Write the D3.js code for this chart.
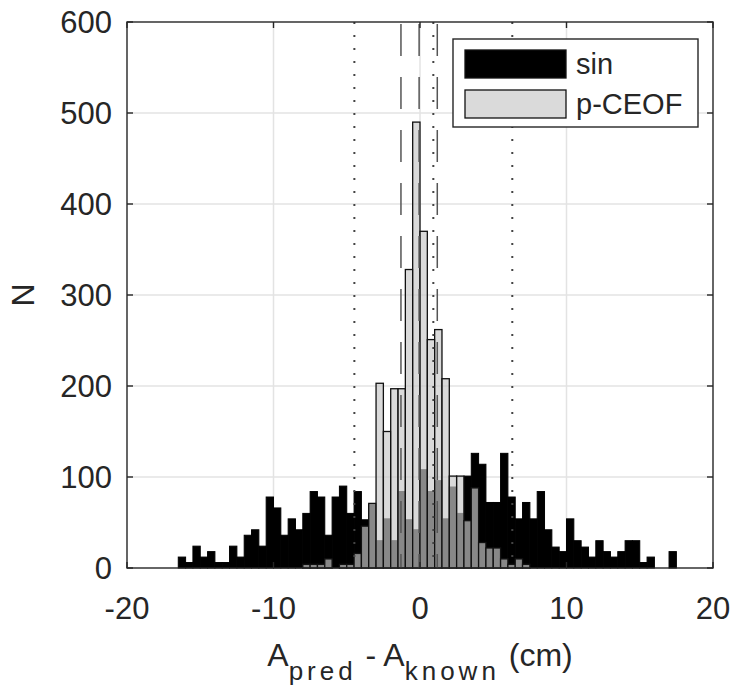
<!DOCTYPE html>
<html>
<head>
<meta charset="utf-8">
<script src="https://cdn.jsdelivr.net/npm/d3@7"></script>
<style>
  body { margin: 0; background: #fff; }
  text { font-family: "Liberation Sans", Arial, Helvetica, sans-serif; fill: #262626; }
</style>
</head>
<body>
<svg id="chart"></svg>
<script>
// bin width 0.5 cm, each array starts at its own first bin edge
const binWidth = 0.5;
const sinStart = -16.5;
const sinCounts = [12, 6, 24, 12, 18, 6, 6, 24, 12, 36, 42, 24, 78, 66, 36, 54, 42, 60, 84, 78,
  36, 78, 90, 60, 84, 53, 70, 30, 54, 30, 84, 53, 42, 108, 84, 96, 54, 89, 60, 101,
  126, 114, 72, 72, 126, 78, 54, 72, 54, 84, 42, 23, 18, 54, 30, 23, 12, 30, 18, 12,
  18, 30, 30, 6, 12, 0, 0, 18];
const ceofStart = -8;
const ceofCounts = [4, 4, 4, 10, 0, 4, 4, 16, 46, 71, 203, 150, 197, 197, 328, 490, 370, 251, 262, 208,
  101, 101, 52, 88, 28, 22, 22, 10, 4, 10, 4];

// mean and mean +/- std markers
const sinLines = [-4.48, 0.91, 6.30];
const ceofLines = [-1.30, -0.06, 1.18];

const xTicks = [-20, -10, 0, 10, 20];
const yTicks = [0, 100, 200, 300, 400, 500, 600];
const legendLabels = ['sin', 'p-CEOF'];

const W = 733, H = 686;
const margin = {top: 22, right: 20, bottom: 118, left: 127};
const width = W - margin.left - margin.right;
const height = H - margin.top - margin.bottom;

const svg = d3.select('#chart').attr('width', W).attr('height', H);
const g = svg.append('g').attr('transform', `translate(${margin.left},${margin.top})`);

const x = d3.scaleLinear().domain([-20, 20]).range([0, width]);
const y = d3.scaleLinear().domain([0, 600]).range([height, 0]);

// grid
g.append('g').selectAll('line').data(xTicks.slice(1, -1)).join('line')
    .attr('x1', d => x(d)).attr('x2', d => x(d))
    .attr('y1', 0).attr('y2', height)
    .attr('stroke', '#e3e3e3').attr('stroke-width', 1.5);
g.append('g').selectAll('line').data(yTicks.slice(1, -1)).join('line')
    .attr('x1', 0).attr('x2', width)
    .attr('y1', d => y(d)).attr('y2', d => y(d))
    .attr('stroke', '#e3e3e3').attr('stroke-width', 1.5);

const toBins = (start, counts) => counts.map((n, i) => ({x0: start + i * binWidth, n}));

// sin histogram (opaque black)
g.append('g').selectAll('rect').data(toBins(sinStart, sinCounts).filter(d => d.n > 0)).join('rect')
    .attr('x', d => x(d.x0))
    .attr('width', d => x(d.x0 + binWidth) - x(d.x0))
    .attr('y', d => y(d.n))
    .attr('height', d => y(0) - y(d.n))
    .attr('fill', '#000')
    .attr('stroke', '#000').attr('stroke-width', 1);

// p-CEOF histogram, semi-transparent over the black one
g.append('g').selectAll('rect').data(toBins(ceofStart, ceofCounts).filter(d => d.n > 0)).join('rect')
    .attr('x', d => x(d.x0))
    .attr('width', d => x(d.x0 + binWidth) - x(d.x0))
    .attr('y', d => y(d.n))
    .attr('height', d => y(0) - y(d.n))
    .attr('fill', '#c8c8c8').attr('fill-opacity', 0.68)
    .attr('stroke', '#111').attr('stroke-width', 1.3);

// vertical marker lines
g.append('g').selectAll('line').data(sinLines).join('line')
    .attr('x1', d => x(d)).attr('x2', d => x(d))
    .attr('y1', 0).attr('y2', height)
    .attr('stroke', '#444').attr('stroke-width', 2)
    .attr('stroke-dasharray', '2,11');
g.append('g').selectAll('line').data(ceofLines).join('line')
    .attr('x1', d => x(d)).attr('x2', d => x(d))
    .attr('y1', 2).attr('y2', height)
    .attr('stroke', '#555').attr('stroke-width', 1.5)
    .attr('stroke-dasharray', '32,21');

// axes box with inward ticks on all sides
const tick = 6;
g.append('rect').attr('width', width).attr('height', height)
    .attr('fill', 'none').attr('stroke', '#262626').attr('stroke-width', 1.4);
const xt = g.append('g');
xTicks.forEach(t => {
  xt.append('line').attr('x1', x(t)).attr('x2', x(t)).attr('y1', height).attr('y2', height - tick)
      .attr('stroke', '#262626').attr('stroke-width', 1.4);
  xt.append('line').attr('x1', x(t)).attr('x2', x(t)).attr('y1', 0).attr('y2', tick)
      .attr('stroke', '#262626').attr('stroke-width', 1.4);
  xt.append('text').attr('x', x(t)).attr('y', height + 51)
      .attr('text-anchor', 'middle').attr('font-size', 31)
      .text(t);
});
const yt = g.append('g');
yTicks.forEach(t => {
  yt.append('line').attr('x1', 0).attr('x2', tick).attr('y1', y(t)).attr('y2', y(t))
      .attr('stroke', '#262626').attr('stroke-width', 1.4);
  yt.append('line').attr('x1', width).attr('x2', width - tick).attr('y1', y(t)).attr('y2', y(t))
      .attr('stroke', '#262626').attr('stroke-width', 1.4);
  yt.append('text').attr('x', -15).attr('y', y(t)).attr('dy', '0.36em')
      .attr('text-anchor', 'end').attr('font-size', 31)
      .text(t);
});

// axis labels
svg.append('text')
    .attr('transform', `translate(34,${margin.top + height / 2}) rotate(-90)`)
    .attr('text-anchor', 'middle').attr('font-size', 32)
    .text('N');
const xl = svg.append('text')
    .attr('x', margin.left + width / 2).attr('y', 666)
    .attr('text-anchor', 'middle').attr('font-size', 32);
xl.append('tspan').text('A');
xl.append('tspan').attr('dy', 14).attr('font-size', 26).attr('letter-spacing', 4).text('pred');
xl.append('tspan').attr('dy', -14).text(' - A');
xl.append('tspan').attr('dy', 14).attr('font-size', 26).attr('letter-spacing', 4).text('known');
xl.append('tspan').attr('dy', -14).text(' (cm)');

// legend
const lg = svg.append('g').attr('transform', 'translate(453,39)');
lg.append('rect').attr('width', 245).attr('height', 88)
    .attr('fill', '#fff').attr('stroke', '#262626').attr('stroke-width', 1.4);
const swatch = [{fill: '#000', opacity: 1}, {fill: '#c8c8c8', opacity: 0.68}];
legendLabels.forEach((label, i) => {
  lg.append('rect').attr('x', 12).attr('y', 11 + i * 40).attr('width', 101).attr('height', 28)
      .attr('fill', swatch[i].fill).attr('fill-opacity', swatch[i].opacity)
      .attr('stroke', '#111').attr('stroke-width', 1.3);
  lg.append('text').attr('x', 123).attr('y', 25 + i * 40).attr('dy', '0.36em')
      .attr('font-size', 29).text(label);
});
</script>
</body>
</html>
